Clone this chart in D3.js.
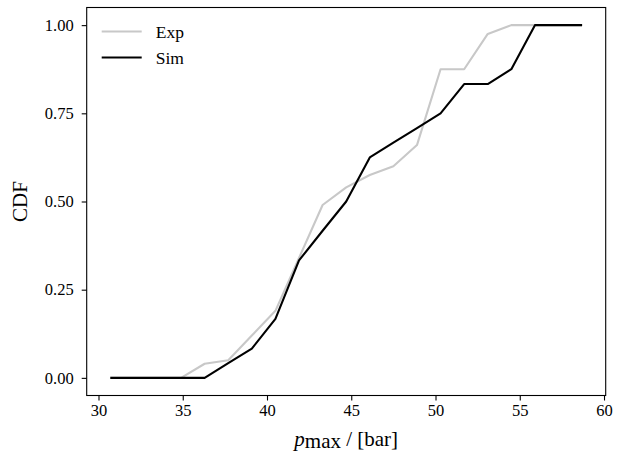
<!DOCTYPE html>
<html lang="en">
<head>
    <meta charset="UTF-8">
    <title>CDF of p_max</title>
    <script src="https://d3js.org/d3.v7.min.js"></script>
    <style>
        body { margin: 0; background: white; }
        text { font-family: "Liberation Serif", "DejaVu Serif", serif; fill: black; }
        .tick text { font-size: 16.5px; }
        .axis-label { font-size: 21px; }
        .legend text { font-size: 17.5px; }
    </style>
</head>
<body>
    <div id="chart"></div>
    <script>
        // pressure grid (bar)
        const pGrid = [30.7, 32.1, 33.5, 34.9, 36.3, 37.7, 39.1, 40.5, 41.9, 43.3, 44.7,
                       46.1, 47.5, 48.9, 50.3, 51.7, 53.1, 54.5, 55.9, 57.3, 58.7];
        const cdfExp = [0, 0, 0, 0, 0.04, 0.05, 0.12, 0.19, 0.34, 0.49, 0.54,
                        0.575, 0.60, 0.66, 0.875, 0.875, 0.975, 1.0, 1.0, 1.0, 1.0];
        const cdfSim = [0, 0, 0, 0, 0, 0.042, 0.083, 0.167, 0.333, 0.417, 0.5,
                        0.625, 0.667, 0.708, 0.75, 0.833, 0.833, 0.875, 1.0, 1.0, 1.0];
        const xTicks = [30, 35, 40, 45, 50, 55, 60];
        const yTicks = [0, 0.25, 0.5, 0.75, 1.0];
        const seriesNames = ["Exp", "Sim"];
        const seriesColors = ["#c8c8c8", "#000000"];

        const width = 620, height = 455;
        const margin = { top: 7.5, right: 14.3, bottom: 59.5, left: 86.7 };
        const w = width - margin.left - margin.right;
        const h = height - margin.top - margin.bottom;

        const svg = d3.select("#chart").append("svg")
            .attr("width", width)
            .attr("height", height);

        const g = svg.append("g")
            .attr("transform", `translate(${margin.left},${margin.top})`);

        const x = d3.scaleLinear().domain([29.3, 60.1]).range([0, w]);
        const y = d3.scaleLinear().domain([-0.05, 1.05]).range([h, 0]);

        const series = [cdfExp, cdfSim].map((vals, i) => ({
            name: seriesNames[i],
            color: seriesColors[i],
            points: pGrid.map((p, j) => [p, vals[j]])
        }));

        const line = d3.line()
            .x(d => x(d[0]))
            .y(d => y(d[1]));

        g.selectAll(".series")
            .data(series)
            .enter()
            .append("path")
            .attr("class", "series")
            .attr("d", d => line(d.points))
            .attr("fill", "none")
            .attr("stroke", d => d.color)
            .attr("stroke-width", 2.1)
            .attr("stroke-linejoin", "round");

        // axes
        const xAxis = g.append("g")
            .attr("transform", `translate(0,${h})`)
            .call(d3.axisBottom(x).tickValues(xTicks).tickFormat(d3.format("d")).tickSizeOuter(0).tickSize(5).tickPadding(4));

        const yAxis = g.append("g")
            .call(d3.axisLeft(y).tickValues(yTicks).tickFormat(d3.format(".2f")).tickSizeOuter(0).tickSize(5).tickPadding(8));

        [xAxis, yAxis].forEach(a => {
            a.select(".domain").remove();
            a.selectAll(".tick line").attr("stroke", "black").attr("stroke-width", 1.1);
        });

        // frame
        g.append("rect")
            .attr("width", w)
            .attr("height", h)
            .attr("fill", "none")
            .attr("stroke", "black")
            .attr("stroke-width", 1.1);

        // axis labels
        const xl = svg.append("text")
            .attr("class", "axis-label")
            .attr("x", margin.left + w / 2)
            .attr("y", 446)
            .attr("text-anchor", "middle");
        xl.append("tspan").attr("font-style", "italic").text("p");
        xl.append("tspan").attr("dy", 2).text("max");
        xl.append("tspan").attr("dy", -2).text(" / [bar]");

        svg.append("text")
            .attr("class", "axis-label")
            .attr("transform", `translate(27,${margin.top + y(0.5)}) rotate(-90)`)
            .attr("text-anchor", "middle")
            .text("CDF");

        // legend
        const legend = g.append("g").attr("class", "legend")
            .attr("transform", "translate(15,24)");

        const items = legend.selectAll("g")
            .data(series)
            .enter()
            .append("g")
            .attr("transform", (d, i) => `translate(0,${i * 26})`);

        items.append("line")
            .attr("x1", 0).attr("x2", 40)
            .attr("stroke", d => d.color)
            .attr("stroke-width", 2.1);

        items.append("text")
            .attr("x", 54)
            .attr("dy", "0.35em")
            .text(d => d.name);
    </script>
</body>
</html>
